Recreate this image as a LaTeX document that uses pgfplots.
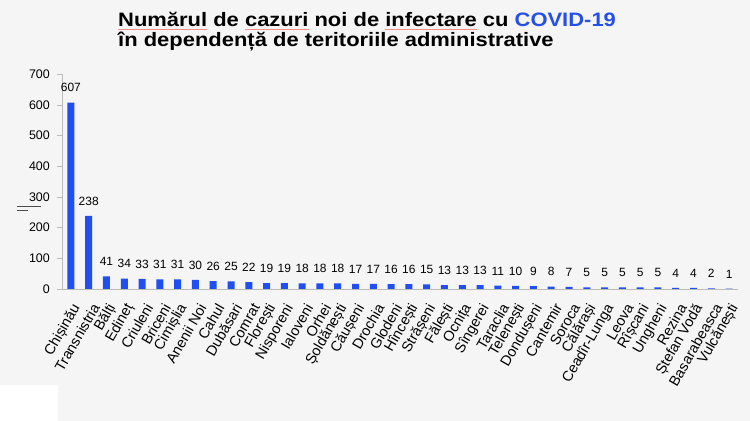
\documentclass[border=0pt]{standalone}
\usepackage{fontspec}
\setmainfont{Liberation Sans}
\usepackage{pgfplots}
\pgfplotsset{compat=1.18}
\definecolor{bg}{HTML}{F5F5F5}
\definecolor{barblue}{HTML}{1F4FF0}
\definecolor{titleblue}{HTML}{2550E8}
\definecolor{axgray}{HTML}{BBBBBB}
\newcommand\ul[1]{\setbox0\hbox{#1}\rlap{\textcolor{red!45}{\rule[-2.2pt]{\wd0}{0.5pt}}}\box0\relax}
\newcommand\xl[1]{\rotatebox{60}{\fontsize{14.5}{15}\selectfont #1}}
\begin{document}
\begin{tikzpicture}
\fill[bg] (0bp,0bp) rectangle (750bp,421bp);
\fill[white] (0bp,0bp) rectangle (58bp,36bp);
\node[anchor=base west,inner sep=0pt,font=\fontsize{19.5}{21}\selectfont\bfseries] at (118bp,394bp) {\scalebox{1.13}[1]{\ul{Numărul} de \ul{cazuri} noi de \ul{infectare} cu \textcolor{titleblue}{COVID-19}}};
\node[anchor=base west,inner sep=0pt,font=\fontsize{19.5}{21}\selectfont\bfseries] at (118bp,374bp) {\scalebox{1.13}[1]{în dependență de teritoriile administrative}};
\draw[black!70,line width=0.8bp] (17bp,215bp) -- (41bp,215bp);
\draw[black!70,line width=0.8bp] (17bp,211bp) -- (28bp,211bp);
\begin{axis}[
  at={(62bp,132bp)}, anchor=south west,
  scale only axis, width=676bp, height=215bp,
  xmin=-0.5, xmax=37.5, ymin=0, ymax=700,
  ytick={0,100,...,700},
  axis x line*=bottom, axis y line*=left,
  axis line style={axgray,-},
  tick style={axgray},
  tick align=outside,
  major tick length=5bp,
  xtick=data,
  x tick style={draw=none},
  minor xtick={-0.5,0.5,...,37.5},
  minor x tick style={axgray},
  minor tick length=5bp,
  xticklabels={\xl{Chișinău},\xl{Transnistria},\xl{Bălți},\xl{Edineț},\xl{Criuleni},\xl{Briceni},\xl{Cimișlia},\xl{Anenii Noi},\xl{Cahul},\xl{Dubăsari},\xl{Comrat},\xl{Florești},\xl{Nisporeni},\xl{Ialoveni},\xl{Orhei},\xl{Șoldănești},\xl{Căușeni},\xl{Drochia},\xl{Glodeni},\xl{Hîncești},\xl{Strășeni},\xl{Fălești},\xl{Ocnița},\xl{Sîngerei},\xl{Taraclia},\xl{Telenești},\xl{Dondușeni},\xl{Cantemir},\xl{Soroca},\xl{Călărași},\xl{Ceadîr-Lunga},\xl{Leova},\xl{Rîșcani},\xl{Ungheni},\xl{Rezina},\xl{Ștefan Vodă},\xl{Basarabeasca},\xl{Vulcănești}},
  x tick label style={anchor=north east, inner sep=0pt, xshift=12bp},
  xticklabel shift=8bp,
  yticklabel={\fontsize{12.5}{13}\selectfont\pgfmathprintnumber{\tick}},
  y tick label style={inner sep=0pt},
  yticklabel shift=7bp,
  /pgf/number format/assume math mode=true,
  ybar, bar width=7bp,
  nodes near coords,
  every node near coord/.append style={font=\fontsize{12}{13}\selectfont, black, yshift=7bp},
]
\addplot[fill=barblue, draw=none] coordinates {
(0,607) (1,238) (2,41) (3,34) (4,33) (5,31) (6,31) (7,30) (8,26) (9,25)
(10,22) (11,19) (12,19) (13,18) (14,18) (15,18) (16,17) (17,17) (18,16) (19,16)
(20,15) (21,13) (22,13) (23,13) (24,11) (25,10) (26,9) (27,8) (28,7) (29,5)
(30,5) (31,5) (32,5) (33,5) (34,4) (35,4) (36,2) (37,1)
};
\end{axis}
\pgfresetboundingbox
\path[use as bounding box] (0bp,0bp) rectangle (750bp,421bp);
\end{tikzpicture}
\end{document}
